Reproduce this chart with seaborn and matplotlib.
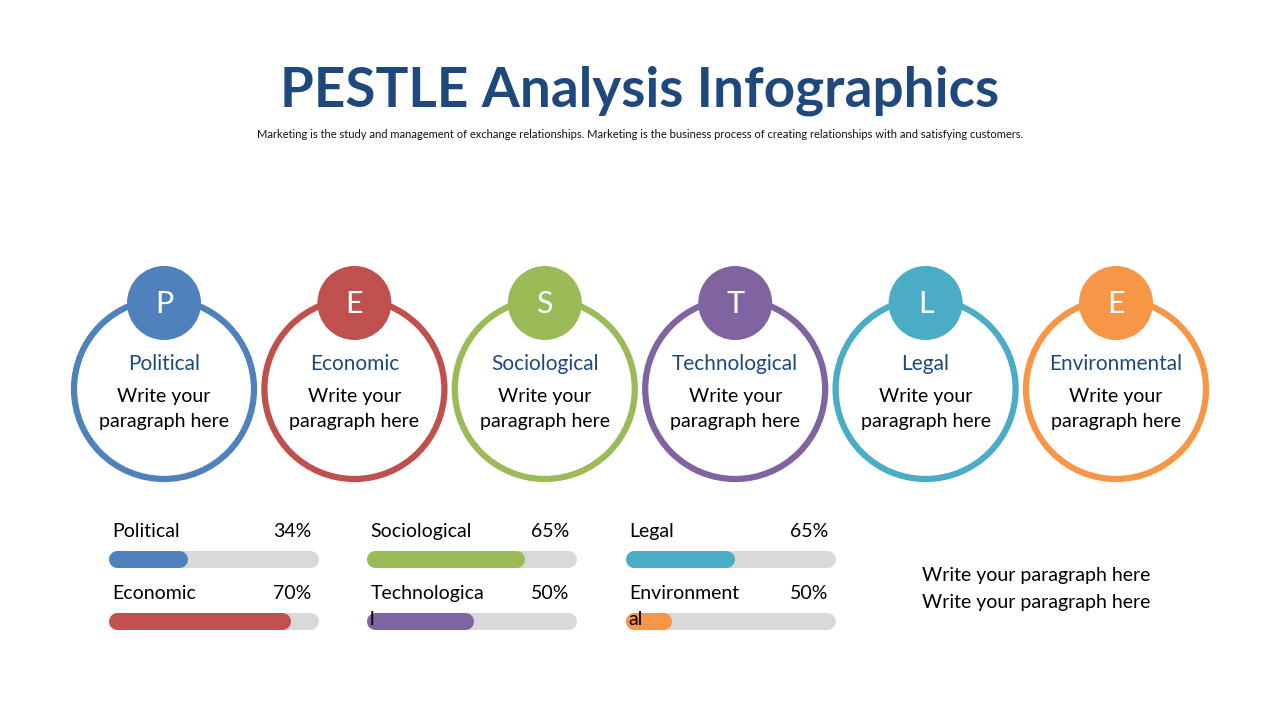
import matplotlib.pyplot as plt
import seaborn as sns
from matplotlib.patches import Circle

# data
letters = ['P', 'E', 'S', 'T', 'L', 'E']
categories = ['Political', 'Economic', 'Sociological', 'Technological', 'Legal', 'Environmental']
colors = ['#4F81BD', '#C0504D', '#9BBB59', '#8064A2', '#4BACC6', '#F79646']
bar_labels = ['Political', 'Economic', 'Sociological', 'Technologica', 'Legal', 'Environment']
bar_tails = ['', '', '', 'l', '', 'al']
pct_labels = [34, 70, 65, 50, 65, 50]
fill_share = [0.38, 0.87, 0.75, 0.51, 0.52, 0.22]

title = 'PESTLE Analysis Infographics'
subtitle = ('Marketing is the study and management of exchange relationships. Marketing is the '
            'business process of creating relationships with and satisfying customers.')
body = 'Write your\nparagraph here'
side_text = 'Write your paragraph here\nWrite your paragraph here'

sns.set_theme(style='white')
plt.rcParams['font.family'] = ['Lato', 'DejaVu Sans']

fig = plt.figure(figsize=(12.8, 7.2), dpi=100)
ax = fig.add_axes([0, 0, 1, 1])
ax.set_xlim(0, 1280)
ax.set_ylim(720, 0)
ax.axis('off')

navy = '#1F497D'
ax.text(640, 91, title, ha='center', va='center', fontsize=39.5, fontweight='bold', color=navy)
ax.text(640, 134, subtitle, ha='center', va='center', fontsize=8, color='#111111')

# circles
x0, step = 164, 190.4
for i, (let, cat, col) in enumerate(zip(letters, categories, colors)):
    cx = x0 + i * step
    ax.add_patch(Circle((cx, 389), 90, fill=False, ec=col, lw=4.5))
    ax.add_patch(Circle((cx, 303), 37, fc=col, ec='none', zorder=3))
    ax.text(cx, 304, let, ha='center', va='center', color='white', fontsize=22, zorder=4)
    ax.text(cx, 364, cat, ha='center', va='center', color=navy, fontsize=15)
    ax.text(cx, 409, body, ha='center', va='center', color='black', fontsize=14,
            linespacing=1.6)

# progress bars
bar_w, bar_h = 210, 17
cap = bar_h / 2
lw_pt = bar_h * 72 / 100
for i, (lab, tail, pct, share, col) in enumerate(zip(bar_labels, bar_tails, pct_labels,
                                                      fill_share, colors)):
    bx = 108 + (i // 2) * 258.5
    by = 558.5 + (i % 2) * 62
    ax.plot([bx + cap, bx + bar_w - cap], [by, by], color='#D9D9D9', lw=lw_pt,
            solid_capstyle='round')
    ax.plot([bx + cap, bx + share * bar_w - cap], [by, by], color=col, lw=lw_pt,
            solid_capstyle='round')
    ax.text(bx + 4, by - 27, lab, ha='left', va='center', fontsize=14, color='black')
    ax.text(bx + 203, by - 27, f'{pct}%', ha='right', va='center', fontsize=14, color='black')
    if tail:
        ax.text(bx + 3, by - 1, tail, ha='left', va='center', fontsize=14, color='black', zorder=5)

ax.text(922, 589, side_text, ha='left', va='center', fontsize=14, color='black',
        linespacing=1.65)

fig.savefig('out.png', dpi=100)
